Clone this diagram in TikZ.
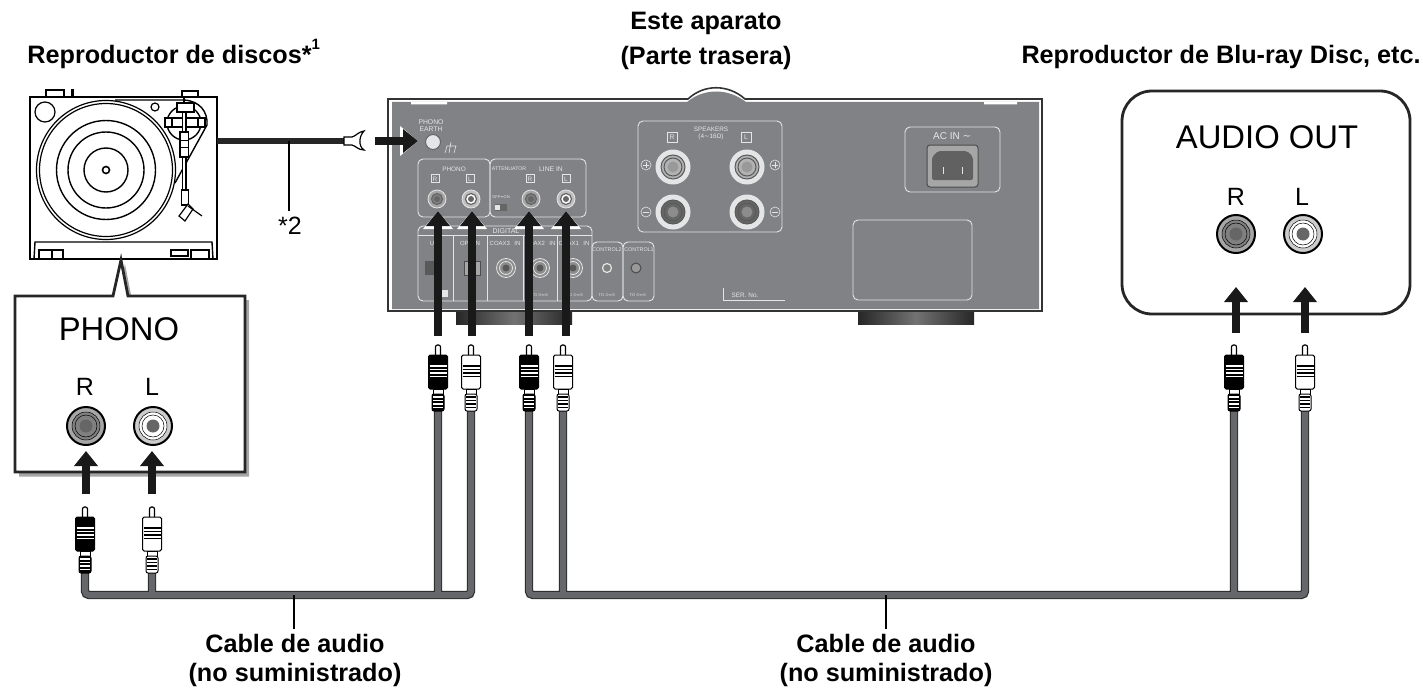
\documentclass[tikz,border=0pt]{standalone}
\usepackage{fontspec}
\setmainfont{Liberation Sans}
\newfontfamily\symbfont{DejaVu Sans}
\usetikzlibrary{arrows.meta}

\definecolor{panelgray}{HTML}{808285}
\definecolor{cablefill}{HTML}{66676A}
\definecolor{cableedge}{HTML}{2E2E30}
\definecolor{platelight}{HTML}{E4E5E6}

\tikzset{
	title/.style={font=\fontsize{12.6}{14}\selectfont\bfseries,inner sep=0pt},
	socketname/.style={font=\fontsize{12.5}{14}\selectfont,inner sep=0pt},
	bigname/.style={font=\fontsize{16.4}{18}\selectfont,inner sep=0pt},
	tiny/.style={font=\fontsize{#1}{#1}\selectfont,text=platelight,inner sep=0pt},
	tiny/.default=3.2,
	plate/.style={draw=platelight,line width=0.45pt,rounded corners=2.5pt},
	cable/.style={draw=cableedge,line width=4.2pt,rounded corners=2pt,postaction={draw=cablefill,line width=3pt}},
	fatarrow/.style={line width=3.6pt,draw=black!90,-{Triangle[length=7.5pt,width=11.5pt]},
		preaction={draw=white,line width=4.3pt,-{Triangle[length=9pt,width=14.5pt]}}},
	foot/.style={left color=black!85,right color=black!85,middle color=black!55},
	pics/rcaplug/.style 2 args={code={
		\draw[line width=0.6pt,fill=white,rounded corners=1pt] (-2.5,11) -- (-2.5,1) -- (2.5,1) -- (2.5,11);
		\draw[line width=0.5pt,fill=#1,rounded corners=0.8pt] (-9.5,11) rectangle (9.5,45);
		\foreach \stripey in {22,25.5,29,32.5}
			\draw[#2,line width=0.55pt] (-8.5,\stripey) -- (8.5,\stripey);
		\draw[line width=0.5pt,fill=white] (-5,45) rectangle (5,50);
		\draw[line width=0.5pt,fill=#1,rounded corners=1pt] (-6,50) rectangle (6,67);
		\foreach \stripey in {53,56.5,60,63.5}
			\draw[#2,line width=0.6pt] (-5,\stripey) -- (5,\stripey);
	}},
	pics/bigjack/.style 2 args={code={
		\draw[line width=1pt,fill=#1] (0,0) circle (19);
		\draw[line width=0.25pt,fill=#2] (0,0) circle (14);
		\draw[line width=0.25pt] (0,0) circle (11);
		\fill[black!60] (0,0) circle (6.5);
	}},
	pics/panjack/.style 2 args={code={
		\draw[line width=0.4pt,draw=platelight,fill=#1] (0,0) circle (9);
		\draw[line width=0.6pt,draw=black!60,fill=#2] (0,0) circle (5.5);
		\fill[black!60] (0,0) circle (3);
	}},
	pics/coaxjack/.style={code={
		\draw[line width=0.4pt,draw=platelight,fill=black!45] (0,0) circle (9.5);
		\draw[line width=0.4pt,draw=platelight] (0,0) circle (6.5);
		\fill[black!65] (0,0) circle (3.5);
	}},
	pics/spkjack/.style 2 args={code={
		\fill[platelight] (0,0) circle (17.5);
		\draw[line width=0.5pt,draw=black!65,fill=#1] (0,0) circle (12);
		\draw[line width=0.5pt,draw=black!65] (0,0) circle (9);
		\fill[#2] (0,0) circle (5.5);
	}},
}

\begin{document}
\begin{tikzpicture}[x=0.5pt,y=-0.5pt]
		\useasboundingbox (0,0) rectangle (1423,690);

		\node[title] (titleset) at (706,23) {Este aparato};
		\node[title] (titlerear) at (706,58) {(Parte trasera)};
		\node[title,anchor=west] (titleplayer) at (27,54) {Reproductor de discos*\raisebox{1.1ex}{\fontsize{7.5}{8}\selectfont 1}};
		\node[title,anchor=east] (titlebluray) at (1421,57) {Reproductor de Blu-ray Disc, etc.};

		\coordinate (tableout) at (217,141);
		\coordinate (forkin) at (345,141);
		\coordinate (cabletap) at (289,141);
		\coordinate (earthtail) at (375,141);
		\coordinate (earthtip) at (418,141);

		\draw[line width=0.8pt] (46,97) rectangle (64,90) (182,97) rectangle (198,91);
		\draw[line width=1.5pt] (72,97) -- (72,89);
		\draw[line width=1.4pt,fill=white] (30,97) rectangle (217,259);
		\draw[line width=0.6pt] (106,170) circle (69.5) (106,170) circle (66.5);
		\draw[line width=0.7pt] (106,170) circle (49.5) (106,170) circle (38) (106,170) circle (22);
		\draw[line width=0.8pt] (106,170) circle (3.5);
		\draw[line width=0.6pt] (45,112) circle (10) (155,107) circle (4);
		\draw[line width=0.7pt] (34,259) -- (35,242) -- (212,242) -- (213,259);
		\draw[line width=0.6pt] (39,259) -- (39,250) -- (63,250) -- (63,259) (52,250) -- (52,259);
		\draw[line width=0.6pt] (171,250) rectangle (188,256) (191,259) -- (191,250) -- (209,250) -- (209,259);
		\draw[line width=0.7pt] (115,100) -- (184,100) .. controls (200,101) and (208,112) .. (207,125) -- (175,183);
		\draw[line width=0.7pt] (184,123) circle (17);
		\draw[line width=0.6pt,fill=white] (165,118) rectangle (205,127);
		\draw[line width=0.6pt] (172,118) -- (172,127) (198,118) -- (198,127);
		\draw[line width=0.8pt,fill=white] (177,103) rectangle (194,112);
		\draw[line width=1.2pt] (184,97) -- (184,103);
		\draw[line width=0.6pt,fill=white] (182.5,112) rectangle (186,190);
		\draw[line width=0.6pt,fill=white] (180,132) rectangle (188.5,157);
		\draw[line width=0.5pt] (180,140) -- (188.5,140) (180,147) -- (188.5,147);
		\draw[line width=0.6pt,fill=white] (181.5,190) rectangle (188.5,205);
		\draw[line width=0.6pt,fill=white] (179,216) -- (188,204) -- (193,209) -- (185,221) -- cycle;
		\draw[line width=0.6pt] (188,206) -- (202,216);

		\draw[line width=3pt,draw=black!85] (tableout) -- (forkin);
		\draw[line width=0.6pt,fill=white] (344,137) -- (352,137) .. controls (356,136) and (358,132) .. (364,131) .. controls (359,136) and (358,146) .. (364,150) .. controls (358,150) and (356,146) .. (352,145) -- (344,145) -- cycle;
		\node[socketname] (startwo) at (290,226) {*2};
		\draw[line width=0.75pt,shorten >=3pt] (cabletap) -- (startwo.north -| cabletap);

		\fill[black!35] (19,300) -- (117,300) -- (125,264) -- (132,300) -- (249,300) -- (249,476.5) -- (19,476.5) -- cycle;
		\draw[line width=1.4pt,fill=white,draw=black!85] (15,296) -- (113,296) -- (121,260) -- (128,296) -- (245,296) -- (245,472) -- (15,472) -- cycle;
		\node[bigname] (phonotitle) at (119,329) {PHONO};
		\node[socketname] (phonoR) at (85,387) {R};
		\node[socketname] (phonoL) at (152,387) {L};
		\pic at (86,426) {bigjack={black!35}{black!50}};
		\pic at (153,426) {bigjack={black!20}{white}};

		\draw[line width=1.4pt,draw=black!85,fill=white,rounded corners=15pt] (1122,91) rectangle (1410,314);
		\node[bigname] (audioout) at (1267,137) {AUDIO OUT};
		\node[socketname] (outR) at (1236,197) {R};
		\node[socketname] (outL) at (1302,197) {L};
		\pic at (1236,234) {bigjack={black!35}{black!50}};
		\pic at (1303,234) {bigjack={black!20}{white}};

		\shade[foot] (456,311) rectangle (572,324);
		\shade[foot] (858,311) rectangle (974,324);
		\draw[line width=0.8pt,draw=black!80,fill=white] (388,99) -- (688,99) .. controls (704,84) and (728,84) .. (745,99) -- (1042,99) -- (1042,311) -- (388,311) -- cycle;
		\fill[panelgray] (392,102) -- (687,102) .. controls (704,88) and (728,88) .. (746,102) -- (1039,102) -- (1039,309) -- (392,309) -- cycle;
		\fill[white] (411,102) rectangle (447,104.5) (984,102) rectangle (1017,104.5);

		\node[tiny=3.4] (earthtop) at (431,122) {PHONO};
		\node[tiny=3.4] (earthbottom) at (431,129.5) {EARTH};
		\draw[line width=0.5pt,draw=black!60,fill=platelight] (433,142) circle (7.5);
		\draw[line width=0.3pt,draw=platelight] (445,153) -- (447,146) -- (456,146) -- (454,153) (451,142) -- (449,153);

		\draw[plate] (418,159) rectangle (490,217);
		\draw[plate] (490,159) rectangle (586,217);
		\node[tiny] (phonogroup) at (454,169) {PHONO};
		\node[tiny] (phonotagR) at (435,179) {R};
		\node[tiny] (phonotagL) at (470,179) {L};
		\node[tiny=2.6] (attenuator) at (509,169) {ATTENUATOR};
		\node[tiny=3.4] (linegroup) at (551,169) {LINE IN};
		\node[tiny] (linetagR) at (530,179) {R};
		\node[tiny] (linetagL) at (566,179) {L};
		\node[tiny=2] (attswitch) at (501,197) {OFF{\symbfont ↔}ON};
		\fill[black!60] (495,204) rectangle (507,211);
		\fill[platelight] (495,205) rectangle (500,210);
		\draw[draw=platelight,line width=0.25pt] (431,174) rectangle (439,182) (466,174) rectangle (474,182) (526,174) rectangle (534,182) (562,174) rectangle (570,182);
		\pic at (437,199) {panjack={black!35}{black!50}};
		\pic at (471,199) {panjack={black!25}{white}};
		\pic at (531,199) {panjack={black!35}{black!50}};
		\pic at (566,199) {panjack={black!25}{white}};

		\draw[plate] (418,226) rectangle (592,301);
		\draw[draw=platelight,line width=0.3pt] (453,235) -- (453,301) (487,235) -- (487,301) (523,235) -- (523,301) (557,235) -- (557,301);
		\draw[draw=platelight,line width=0.3pt] (418,235) -- (592,235);
		\draw[plate] (592,242) rectangle (623,301);
		\draw[plate] (623,242) rectangle (654,301);
		\node[tiny=3.5] (digital) at (506,231) {DIGITAL};
		\node[tiny=3] (usbin) at (436,243) {USB};
		\node[tiny=3] (optin) at (470,243) {OPT IN};
		\node[tiny=3] (coaxthree) at (505,243) {COAX3 \, IN};
		\node[tiny=3] (coaxtwo) at (540,243) {COAX2 \, IN};
		\node[tiny=3] (coaxone) at (574,243) {COAX1 \, IN};
		\node[tiny=2.7] (controltwo) at (607,250) {CONTROL2};
		\node[tiny=2.7] (controlone) at (639,250) {CONTROL1};
		\fill[black!65] (425,261) rectangle (442,275);
		\draw[line width=0.4pt,draw=black!70,fill=black!35] (464,261) rectangle (480,275);
		\fill[platelight] (438,290) rectangle (448,297);
		\pic at (506,268) {coaxjack};
		\pic at (540,268) {coaxjack};
		\pic at (573,268) {coaxjack};
		\draw[line width=0.6pt,draw=platelight,fill=black!50] (607,268) circle (4.5);
		\draw[line width=0.5pt,draw=black!70,fill=black!40] (636,268) circle (5);
		\node[tiny=2] (tothree) at (540,295) {TO {\symbfont ⊙⇔⊙}};
		\node[tiny=2] (totwo) at (575,295) {TO {\symbfont ⊙⇔⊙}};
		\node[tiny=2] (toone) at (607,295) {TO {\symbfont ⊙⇔⊙}};
		\node[tiny=2] (tozero) at (638,295) {TO {\symbfont ⊙⇔⊙}};

		\draw[plate] (638,121) rectangle (782,232);
		\node[tiny] (speakers) at (711,129) {SPEAKERS};
		\node[tiny] (ohms) at (711,137) {(4{\symbfont ∼}16Ω)};
		\node[tiny=3.4] (spktagR) at (672,137) {R};
		\node[tiny=3.4] (spktagL) at (746,137) {L};
		\draw[draw=platelight,line width=0.25pt] (667,132) rectangle (677,142) (741,132) rectangle (751,142);
		\pic at (673,167) {spkjack={black!30}{black!40}};
		\pic at (747,167) {spkjack={black!30}{black!40}};
		\pic at (673,212) {spkjack={black!60}{black!45}};
		\pic at (747,212) {spkjack={black!60}{black!45}};
		\draw[draw=platelight,line width=0.3pt] (646,165) circle (5) (775,165) circle (5) (646,212) circle (5) (775,212) circle (5);
		\draw[draw=platelight,line width=0.3pt] (643,165) -- (649,165) (646,162) -- (646,168) (772,165) -- (778,165) (775,162) -- (775,168) (643,212) -- (649,212) (772,212) -- (778,212);

		\draw[plate] (905,127) rectangle (1000,192);
		\node[tiny=5] (acin) at (952,136) {AC IN {\symbfont ∼}};
		\draw[line width=0.5pt,draw=black!70,fill=black!35,rounded corners=1.5pt] (927,145) rectangle (978,187);
		\fill[black!62,rounded corners=1pt] (932,180) -- (932,157) -- (938,151) -- (967,151) -- (973,157) -- (973,180) -- cycle;
		\draw[draw=platelight,line width=0.5pt] (943,167) -- (943,174) (962,167) -- (962,174);
		\draw[plate] (853,220) rectangle (972,300);
		\draw[draw=platelight,line width=0.35pt] (723,288) -- (723,300) -- (785,300);
		\node[tiny] (serno) at (745,295) {SER. No.};

		\coordinate (plugA) at (85,573);
		\coordinate (plugB) at (152,573);
		\coordinate (plugC) at (438,411);
		\coordinate (plugD) at (471,411);
		\coordinate (plugE) at (529,411);
		\coordinate (plugF) at (563,411);
		\coordinate (plugG) at (1234,411);
		\coordinate (plugH) at (1305,411);
		\coordinate (busA) at (85,595);
		\coordinate (busB) at (152,595);
		\coordinate (busC) at (438,595);
		\coordinate (busD) at (471,595);
		\coordinate (busE) at (529,595);
		\coordinate (busF) at (563,595);
		\coordinate (busG) at (1234,595);
		\coordinate (busH) at (1305,595);
		\coordinate (tapleft) at (294,595);
		\coordinate (tapright) at (886,595);

		\draw[cable] (plugA) -- (busA) -- (busD) -- (plugD) (plugB) -- (busB) (plugC) -- (busC);
		\draw[cable] (plugE) -- (busE) -- (busH) -- (plugH) (plugF) -- (busF) (plugG) -- (busG);

		\pic at (85,506) {rcaplug={black}{white}};
		\pic at (152,506) {rcaplug={white}{black}};
		\pic at (438,344) {rcaplug={black}{white}};
		\pic at (471,344) {rcaplug={white}{black}};
		\pic at (529,344) {rcaplug={black}{white}};
		\pic at (563,344) {rcaplug={white}{black}};
		\pic at (1234,344) {rcaplug={black}{white}};
		\pic at (1305,344) {rcaplug={white}{black}};

		\draw[fatarrow] (earthtail) -- (earthtip);
		\foreach \arrowx/\arrowtail/\arrowtip in {86/494/451,152/494/451,438/336/211,472/336/211,529/336/211,566/336/211,1236/333/287,1305/333/287}
			\draw[fatarrow] (\arrowx,\arrowtail) -- (\arrowx,\arrowtip);

		\node[title] (labelleft) at (295,643) {Cable de audio};
		\node[title] (labelleftb) at (295,675) {(no suministrado)};
		\node[title] (labelright) at (886,643) {Cable de audio};
		\node[title] (labelrightb) at (886,675) {(no suministrado)};
		\draw[line width=0.75pt,shorten >=2pt] (tapleft) -- (labelleft.north -| tapleft);
		\draw[line width=0.75pt,shorten >=2pt] (tapright) -- (labelright.north -| tapright);
	\end{tikzpicture}
\end{document}
